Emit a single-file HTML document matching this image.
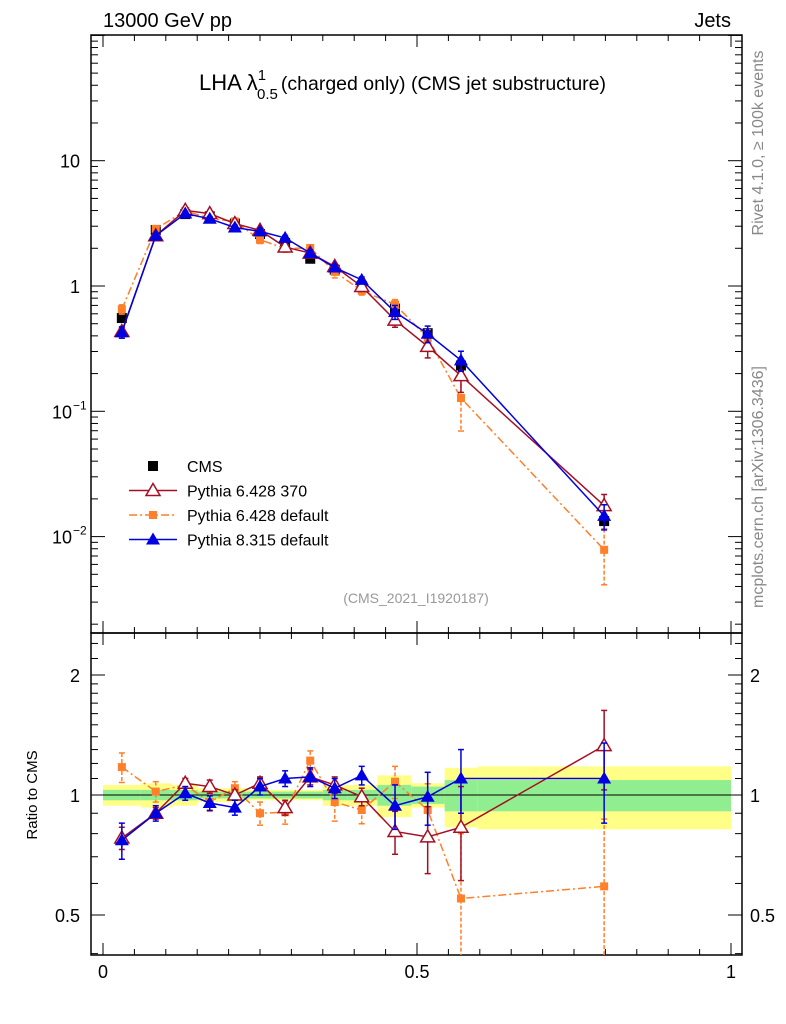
<!DOCTYPE html>
<html><head><meta charset="utf-8"><style>
body{margin:0;background:#fff;}
svg{font-family:"Liberation Sans",sans-serif;display:block;}
</style></head><body>
<svg id="c" width="786" height="1024" viewBox="0 0 786 1024">
<text x="103" y="27" font-size="20">13000 GeV pp</text>
<text x="731" y="27" font-size="20" text-anchor="end">Jets</text>
<text x="199" y="90" font-size="22">LHA λ<tspan font-size="15" dy="-10">1</tspan><tspan font-size="15" dx="-9" dy="19">0.5</tspan><tspan font-size="19.5" dx="3" dy="-9">(charged only) (CMS jet substructure)</tspan></text>
<text x="416" y="603" font-size="14" fill="#999" text-anchor="middle">(CMS_2021_I1920187)</text>
<text transform="translate(763,143) rotate(-90)" font-size="16" fill="#888" text-anchor="middle">Rivet 4.1.0, ≥ 100k events</text>
<text transform="translate(763,487) rotate(-90)" font-size="16" fill="#888" text-anchor="middle">mcplots.cern.ch [arXiv:1306.3436]</text>
<text transform="translate(37,795) rotate(-90)" font-size="15" text-anchor="middle">Ratio to CMS</text>
<g id="g"></g>
</svg>
<script>
const xs=[0.030,0.084,0.131,0.170,0.210,0.250,0.290,0.330,0.369,0.412,0.465,0.517,0.570,0.798];
const edges=[0,0.06,0.11,0.151,0.189,0.229,0.269,0.309,0.35,0.389,0.437,0.491,0.544,0.597,1.0];
const cms=[0.555,2.8,3.75,3.6,3.15,2.6,2.2,1.65,1.35,1.0,0.66,0.42,0.232,0.0133];
const bandStat=[0.03,0.03,0.03,0.02,0.02,0.02,0.02,0.02,0.03,0.03,0.06,0.05,0.09,0.09];
const bandTot=[0.06,0.07,0.06,0.04,0.04,0.03,0.03,0.03,0.06,0.06,0.12,0.07,0.17,0.18];
const rP6a=[0.78,0.90,1.07,1.05,1.0,1.07,0.93,1.11,1.06,0.99,0.81,0.785,0.83,1.33];
const eP6a=[0.05,0.03,0.03,0.04,0.03,0.04,0.04,0.05,0.05,0.05,0.10,0.15,0.22,0.30];
const rP6d=[1.175,1.02,1.06,0.96,1.04,0.90,0.905,1.22,0.96,0.917,1.08,0.917,0.55,0.59];
const eP6d=[0.10,0.06,0.04,0.05,0.04,0.06,0.06,0.07,0.10,0.07,0.10,0.15,0.25,0.28];
const rP8=[0.77,0.90,1.01,0.955,0.93,1.05,1.10,1.11,1.04,1.12,0.94,0.99,1.10,1.10];
const eP8=[0.08,0.04,0.04,0.04,0.04,0.05,0.05,0.06,0.06,0.06,0.12,0.15,0.20,0.25];
const ratioTicks=[0.5,1,2];
const xTicks=[0,0.5,1];

const NS="http://www.w3.org/2000/svg";
const G=document.getElementById('g');
const X=v=>103+628*v;
const Y=v=>286-125.3*Math.log10(v);
const R=v=>795-120*Math.log2(v);
const L=91,Rt=742,T1=35,B1=633,T2=633,B2=955;
function el(t,a,p){const e=document.createElementNS(NS,t);for(const k in a)e.setAttribute(k,a[k]);(p||G).appendChild(e);return e;}
function clipR(y){return Math.max(T2,Math.min(B2,y));}

for(let i=0;i<xs.length;i++){
 const x0=X(edges[i]),x1=X(edges[i+1]);
 let e=el('rect',{x:x0,y:R(1+bandTot[i]),width:x1-x0,height:R(1-bandTot[i])-R(1+bandTot[i]),fill:'#ffff88'});
 
 e=el('rect',{x:x0,y:R(1+bandStat[i]),width:x1-x0,height:R(1-bandStat[i])-R(1+bandStat[i]),fill:'#90ee90'});
 
}
let ln=el('line',{x1:L,x2:Rt,y1:R(1),y2:R(1),stroke:'#000','stroke-width':1});


for(const [t,b,n] of [[T1,B1,'main-frame'],[T2,B2,'ratio-frame']]){
 const f=el('rect',{x:L,y:t,width:Rt-L,height:b-t,fill:'none',stroke:'#000','stroke-width':1.5});
 
}
for(let v=0;v<=1.0001;v+=0.05){
 const big=Math.abs(v*10-Math.round(v*10))<1e-6&&Math.round(v*10)%5==0;
 const len=big?12:6;
 for(const [t,b] of [[T1,B1],[T2,B2]]){
  el('line',{x1:X(v),x2:X(v),y1:b,y2:b-len,stroke:'#000'});
  el('line',{x1:X(v),x2:X(v),y1:t,y2:t+len,stroke:'#000'});
 }
}
xTicks.forEach(v=>{const t=el('text',{x:X(v),y:978,'font-size':18,'text-anchor':'middle'});t.textContent=String(v);
 });
for(let d=-3;d<=2;d++)for(let m=1;m<10;m++){
 const v=m*Math.pow(10,d),y=Y(v);if(y<T1||y>B1)continue;
 const len=m==1?14:7;
 el('line',{x1:L,x2:L+len,y1:y,y2:y,stroke:'#000'});el('line',{x1:Rt,x2:Rt-len,y1:y,y2:y,stroke:'#000'});
}
[[0.01,'10','-2'],[0.1,'10','-1'],[1,'1',''],[10,'10','']].forEach(([v,b,s])=>{
 const t=el('text',{x:s?72:80,y:Y(v)+7,'font-size':18,'text-anchor':'end'});t.textContent=b;
 
 if(s){const u=el('text',{x:73,y:Y(v)-2,'font-size':12});u.textContent='−'+s.slice(1);}
});
[0.4,0.5,0.6,0.7,0.8,0.9,1,1.1,1.2,1.3,1.4,1.5,1.6,1.7,1.8,1.9,2,2.2,2.4].forEach(v=>{
 const y=R(v);if(y<T2||y>B2)return;const big=[0.5,1,2].includes(v);const len=big?14:7;
 el('line',{x1:L,x2:L+len,y1:y,y2:y,stroke:'#000'});el('line',{x1:Rt,x2:Rt-len,y1:y,y2:y,stroke:'#000'});
});
ratioTicks.forEach(v=>{
 let t=el('text',{x:80,y:R(v)+7,'font-size':18,'text-anchor':'end'});t.textContent=String(v);
 
 t=el('text',{x:750,y:R(v)+7,'font-size':18});t.textContent=String(v);
 
});

function marker(type,x,y,color,p){
 if(type=='sq'){return el('rect',{x:x-5,y:y-5,width:10,height:10,fill:color},p);}
 if(type=='osq'){return el('rect',{x:x-4,y:y-4,width:8,height:8,fill:color},p);}
 if(type=='tri')return el('polygon',{points:`${x},${y-7} ${x-7},${y+5} ${x+7},${y+5}`,fill:color},p);
 if(type=='otri')return el('polygon',{points:`${x},${y-7} ${x-7},${y+5} ${x+7},${y+5}`,fill:'#fff',stroke:color,'stroke-width':1.5},p);
}
const series=[
 {r:rP6d,e:eP6d,c:'#ff7f2a',m:'osq',dash:'8,3,2,3',n:'pythia6-default'},
 {r:rP6a,e:eP6a,c:'#a50f24',m:'otri',dash:'',n:'pythia6-370'},
 {r:rP8,e:eP8,c:'#0000e0',m:'tri',dash:'',n:'pythia8-default'}];
cms.forEach((v,i)=>{const m=marker('sq',X(xs[i]),Y(v),'#000');
 });
series.forEach(s=>{
 for(const panel of ['main','ratio']){
  const g=el('g',{});
  
  const yf=i=>panel=='main'?Y(cms[i]*s.r[i]):R(s.r[i]);
  const pts=xs.map((x,i)=>X(x)+','+yf(i)).join(' ');
  const a={points:pts,fill:'none',stroke:s.c,'stroke-width':1.5};if(s.dash)a['stroke-dasharray']=s.dash;
  el('polyline',a,g);
  xs.forEach((x,i)=>{
   const lo=s.r[i]-s.e[i],hi=s.r[i]+s.e[i];
   let y1,y2;
   if(panel=='main'){y1=Y(cms[i]*hi);y2=Y(cms[i]*Math.max(lo,0.01));}
   else{y1=clipR(R(hi));y2=clipR(R(Math.max(lo,0.05)));}
   const ea={x1:X(x),x2:X(x),y1:y1,y2:y2,stroke:s.c,'stroke-width':1.5};if(s.dash)ea['stroke-dasharray']='4,2';
   el('line',ea,g);
   el('line',{x1:X(x)-3,x2:X(x)+3,y1:y1,y2:y1,stroke:s.c,'stroke-width':1.5},g);
   if(y2<B2-1)el('line',{x1:X(x)-3,x2:X(x)+3,y1:y2,y2:y2,stroke:s.c,'stroke-width':1.5},g);
   if(panel=='ratio'&&(yf(i)<T2||yf(i)>B2))return;
   marker(s.m,X(x),yf(i),s.c,g);
  });
 }
});
const leg=[['CMS','#000','sq',''],['Pythia 6.428 370','#a50f24','otri',''],['Pythia 6.428 default','#ff7f2a','osq','8,3,2,3'],['Pythia 8.315 default','#0000e0','tri','']];
leg.forEach((l,i)=>{
 const y=466+24.5*i;const g=el('g',{});
 
 if(i>0){const a={x1:129,x2:177,y1:y,y2:y,stroke:l[1],'stroke-width':1.5};if(l[3])a['stroke-dasharray']=l[3];el('line',a,g);}
 marker(l[2],153,y,l[1],g);
 const t=el('text',{x:187,y:y+6,'font-size':16},g);t.textContent=l[0];
});
</script>
</body></html>
